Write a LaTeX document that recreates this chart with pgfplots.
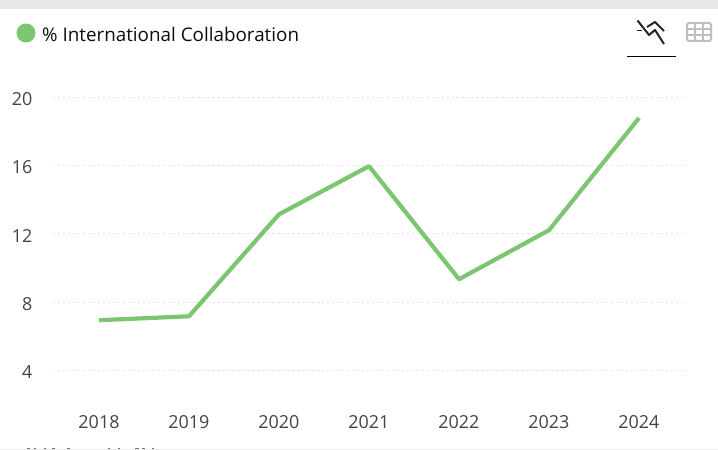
\documentclass[border=0pt]{standalone}
\usepackage{pgfplots}
\usepackage{fontspec}
\setmainfont{Open Sans}
\pgfplotsset{compat=1.18}
\definecolor{series}{HTML}{7DC671}
\definecolor{gridc}{HTML}{E6E6E6}
\definecolor{labelc}{HTML}{444444}
\pgfplotstableread{
year share
2018 6.93
2019 7.16
2020 13.13
2021 15.95
2022 9.33
2023 12.20
2024 18.77
}\collab
\begin{document}
\begin{tikzpicture}[x=1bp,y=-1bp]
\useasboundingbox (0,0) rectangle (718,450);
\fill[white] (0,0) rectangle (718,450);
\fill[black!9] (0,0) rectangle (718,9);
\fill[black!7] (0,448.5) rectangle (718,450);
% tops of the text in the panel below
\foreach \a/\b in {27/30,34/36,44/46,52/55,67/70,108/110,118/120,135/139,142/145,152/154}
  \fill[black!55] (\a,447.6) rectangle (\b,448.6);
% legend entry
\fill[series] (26,33) circle (9.5);
\node[anchor=west,inner sep=0,font=\fontsize{18.9}{20}\selectfont,text=black!95] at (42,34.5) {\% International Collaboration};
% chart/table switch
\draw[black,line width=1.2] (627,56.5) -- (676,56.5);
\draw[black!85,line width=2,line join=round] (637.5,20.5) -- (649,35) -- (655,30) -- (664,44);
\draw[black!85,line width=2,line join=round] (647,27) -- (655,22) -- (664,31);
\draw[black!85,line width=1.6] (637,30.5) -- (642,30.5);
\draw[black!25,line width=2,rounded corners=1.5] (687,23) rectangle (711,41);
\draw[black!25,line width=1.6] (687,29) -- (711,29) (687,35) -- (711,35) (695,23) -- (695,41) (703,23) -- (703,41);
\begin{scope}[y=1bp]
\begin{axis}[
  at={(53bp,-404.4bp)},anchor=south west,
  scale only axis,width=633bp,height=307.4bp,
  xmin=2017.489,xmax=2024.522,ymin=2,ymax=20,
  axis line style={draw=none},
  xtick={2018,...,2024},ytick={4,8,12,16,20},
  xticklabel style={/pgf/number format/1000 sep={}},
  /pgf/number format/assume math mode=true,
  tick style={draw=none},
  ymajorgrids,
  grid style={gridc,line width=0.8pt,dash pattern=on 2.5pt off 2.5pt},
  tick label style={text=labelc,font=\fontsize{18}{20}\selectfont},
  yticklabel style={xshift=-17bp,yshift=-2bp},
  xticklabel style={yshift=-8bp},
  clip=false,
]
\addplot[series,line width=4.2bp,line join=round] table[x=year,y=share] {\collab};
\end{axis}
\end{scope}
\end{tikzpicture}
\end{document}
